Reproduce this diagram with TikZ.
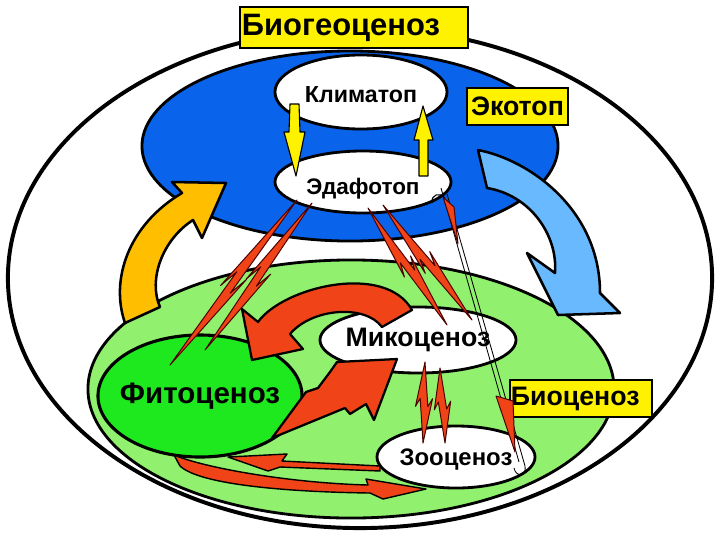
\documentclass[tikz,border=0pt]{standalone}
\usepackage{fontspec}
\setmainfont{Liberation Sans}
\usetikzlibrary{shapes.geometric,calc}

\definecolor{blueE}{RGB}{10,100,235}
\definecolor{blueL}{RGB}{105,185,255}
\definecolor{greenL}{RGB}{145,240,110}
\definecolor{greenB}{RGB}{30,232,30}
\definecolor{orangeA}{RGB}{255,190,0}
\definecolor{redA}{RGB}{240,68,24}

\tikzset{
  cell/.style={ellipse, draw=black, line width=2pt, fill=white, inner sep=0pt},
  tag/.style={draw=black, line width=2pt, fill=yellow, inner sep=0pt, font=\bfseries},
  zapfill/.style={fill=redA, draw=black!70!red, line width=0.7pt, line join=round},
  fat/.style={fill=redA, draw=black, line width=1.6pt, line join=round},
  yel/.style={fill=yellow, draw=black, line width=0.8pt, line join=round},
}

% thin red lightning arrow from #1 to #2
\newcommand{\zap}[2]{%
  \filldraw[zapfill] (#1) -- ($(#1)!.55!(#2)!2.8pt!90:(#2)$) -- ($(#1)!.45!(#2)!6pt!90:(#2)$)
    -- (#2) -- ($(#1)!.45!(#2)!2.8pt!-90:(#2)$) -- ($(#1)!.55!(#2)!6pt!-90:(#2)$) -- cycle;}

\begin{document}
\begin{tikzpicture}[x=0.025cm, y=-0.025cm]
  \useasboundingbox (0,0) rectangle (720,540);

  % big areas
  \node[ellipse, draw=black, line width=2.8pt, fill=white, minimum width=17.6cm, minimum height=12.5cm] (world) at (360,278) {};
  \node[ellipse, draw=black, line width=2pt, fill=greenL, minimum width=13.15cm, minimum height=6.45cm] (biota) at (351,389) {};
  \node[ellipse, draw=black, line width=2pt, fill=blueE, minimum width=10.4cm, minimum height=4.75cm] (eco) at (350,146) {};

  % the parts
  \node[cell, minimum width=4.3cm, minimum height=1.85cm,
    label={[font=\bfseries\fontsize{16.5}{18}\selectfont, yshift=-2pt]center:Климатоп}] (klim) at (361,92) {};
  \node[cell, minimum width=4.4cm, minimum height=1.55cm,
    label={[font=\bfseries\fontsize{16}{18}\selectfont, yshift=-5pt]center:Эдафотоп}] (edaf) at (363,182) {};
  \node[cell, minimum width=4.9cm, minimum height=1.65cm,
    label={[font=\bfseries\fontsize{19}{21}\selectfont]center:Микоценоз}] (myko) at (418,340) {};
  \node[cell, fill=greenB, line width=2.2pt, minimum width=5.1cm, minimum height=3.05cm,
    label={[font=\bfseries\fontsize{21}{23}\selectfont]center:Фитоценоз}] (fito) at (200,396) {};
  \node[cell, minimum width=3.95cm, minimum height=1.55cm,
    label={[font=\bfseries\fontsize{17}{19}\selectfont, yshift=-2pt]center:Зооценоз}] (zoo) at (456,457) {};

  % yellow arrows
  \filldraw[yel] (290,104) -- (299,104) -- (300,132) -- (305,132) -- (296,176) -- (284,132) -- (289,132) -- cycle;
  \filldraw[yel] (423,106) -- (433,140) -- (428,140) -- (428,176) -- (419,176) -- (419,140) -- (414,140) -- cycle;

  % round arrows
  \filldraw[fill=orangeA, draw=black, line width=1.8pt, line join=round]
    (125,323) .. controls (110,280) and (128,225) .. (182,193) -- (172,182) -- (226,183) -- (202,238)
    -- (193,220) .. controls (162,240) and (148,280) .. (160,307) -- cycle;
  \filldraw[fill=blueL, draw=black, line width=1.8pt, line join=round]
    (478,150) .. controls (530,160) and (600,210) .. (600,293) -- (620,313) -- (558,315) -- (527,253)
    -- (555,273) .. controls (558,235) and (530,195) .. (487,188) -- cycle;
  \filldraw[fat] (258,322) .. controls (283,287) and (385,262) .. (412,310) -- (382,327)
    .. controls (365,304) and (312,308) .. (290,334) -- (303,349) -- (252,360) -- (242,309) -- cycle;
  \filldraw[fat] (272,438) -- (306,392) -- (318,388) -- (330,372) -- (337,362) -- (397,359) -- (374,420)
    -- (366,404) -- (350,414) -- (345,408) -- cycle;

  \node[tag, minimum width=3.55cm, minimum height=0.925cm, text width=3.5cm, align=left,
    font=\bfseries\fontsize{19}{21}\selectfont] (biocen) at (581,398.5) {Биоценоз};

  % thin arrows
  \coordinate (a1) at (297,200); \coordinate (a2) at (170,365);
  \coordinate (b1) at (205,350); \coordinate (b2) at (312,203);
  \coordinate (c1) at (368,208); \coordinate (c2) at (447,325);
  \coordinate (d1) at (472,320); \coordinate (d2) at (383,205);
  \coordinate (e1) at (423,443); \coordinate (e2) at (425,362);
  \coordinate (f1) at (440,368); \coordinate (f2) at (445,443);
  \zap{a1}{a2} \zap{b1}{b2} \zap{c1}{c2} \zap{d1}{d2} \zap{e1}{e2} \zap{f1}{f2}

  % soil to animals
  \draw[line width=0.6pt] (441,188) -- (519,462);
  \draw[line width=0.6pt] (447,194) -- (525,466) .. controls (527,476) and (516,478) .. (514,468);
  \draw[line width=0.8pt] (432,203) .. controls (431,194) and (440,192) .. (445,198);
  \filldraw[zapfill] (443,197) -- (454,207) -- (458,244) -- cycle;
  \filldraw[zapfill] (496,396) -- (513,401) -- (515,452) -- cycle;

  % animals and plants
  \filldraw[fat, line width=1pt] (380,466) -- (282,461) -- (287,454) -- (228,457) -- (268,471) -- (280,467) -- (380,471) -- cycle;
  \filldraw[fat, line width=1pt] (174,455) .. controls (205,468) and (290,483) .. (368,485) -- (366,479) -- (426,489)
    -- (383,499) -- (370,493) .. controls (290,492) and (200,485) .. (180,466) -- cycle;

  % titles
  \node[tag, minimum width=5.7cm, minimum height=1.025cm, text width=5.6cm, align=left,
    font=\bfseries\fontsize{22}{24}\selectfont] (biogeo) at (354,27.5) {Биогеоценоз};
  \node[tag, minimum width=2.525cm, minimum height=0.925cm,
    font=\bfseries\fontsize{19}{21}\selectfont] (ekotop) at (517.5,106.5) {Экотоп};
\end{tikzpicture}
\end{document}
